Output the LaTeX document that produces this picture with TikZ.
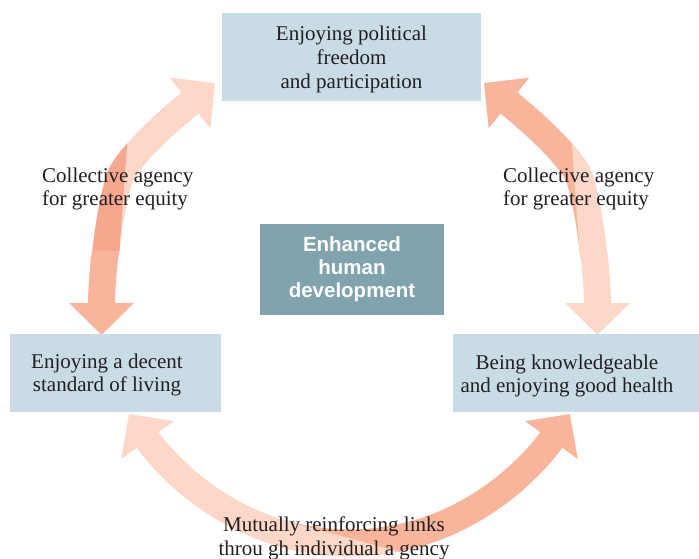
\documentclass[tikz,border=0pt]{standalone}
\usepackage{fontspec}
\setmainfont{Liberation Serif}
\newfontfamily\hubsans{Liberation Sans}
\usetikzlibrary{arrows.meta}
\definecolor{boxblue}{HTML}{C9DCE6}
\definecolor{hubblue}{HTML}{80A3AE}
\definecolor{arrlight}{HTML}{FDD8C9}
\definecolor{arrdark}{HTML}{F9B59C}
\definecolor{arrdeep}{HTML}{F6A88E}
\definecolor{txtcol}{HTML}{231F20}
\begin{document}
\begin{tikzpicture}[x=1pt,y=-1pt,
  band/.style={line width=27pt},
  headend/.style={-{Triangle[width=63pt,length=32pt]}},
  headstart/.style={{Triangle[width=63pt,length=32pt]}-},
  boxstyle/.style={fill=boxblue, draw=none, inner sep=0pt},
  hubstyle/.style={fill=hubblue, draw=none, inner sep=0pt},
  serif/.style={font=\fontsize{21}{23.7}\selectfont, text=txtcol, inner sep=0pt},
  hubtext/.style={font=\hubsans\bfseries\fontsize{20.5}{23.4}\selectfont, text=white, inner sep=0pt, align=center}
]
\useasboundingbox (0,0) rectangle (699,559);
\fill[white] (0,0) rectangle (699,559);

% ---------- named end points ----------
\coordinate (LB) at (101.5,335);
\coordinate (LJ) at (119,180);
\coordinate (LT) at (215,83);
\coordinate (RB) at (597.5,335);
\coordinate (RJ) at (580,180);
\coordinate (RT) at (484,83);
\coordinate (BL) at (129,414);
\coordinate (BM) at (349.5,543);
\coordinate (BR) at (570,414);

% ---------- left arc ----------
\def\leftarc{(LB) .. controls (101.5,275) and (108,218) .. (LJ) .. controls (126,156) and (180,111) .. (LT)}
\begin{scope}
  \clip (0,0) rectangle (300,256);
  \draw[band, arrlight, headend] \leftarc;
\end{scope}
\begin{scope}
  \clip (0,251) rectangle (240,559);
  \draw[band, arrdark, headstart] \leftarc;
\end{scope}
\begin{scope}
  \clip (137.4,0) -- (119.5,251) -- (0,251) -- (0,0) -- cycle;
  \draw[band, arrdeep] \leftarc;
\end{scope}

% ---------- right arc ----------
\def\rightarc{(RB) .. controls (597.5,275) and (591,218) .. (RJ) .. controls (573,156) and (519,111) .. (RT)}
\begin{scope}
  \clip (399,0) rectangle (699,256);
  \draw[band, arrdark, headend] \rightarc;
\end{scope}
\begin{scope}
  \clip (459,251) rectangle (699,559);
  \draw[band, arrlight, headstart] \rightarc;
\end{scope}
\begin{scope}
  \clip (561.6,0) -- (579.5,251) -- (699,251) -- (699,0) -- cycle;
  \draw[band, arrlight] \rightarc;
\end{scope}

% ---------- bottom arc ----------
\def\bottomarc{(BL) .. controls (169.6,470.7) and (239.5,543) .. (BM) .. controls (459.5,543) and (529.4,470.7) .. (BR)}
\begin{scope}
  \clip (0,380) rectangle (412,559);
  \draw[band, arrlight, headstart] \bottomarc;
\end{scope}
\begin{scope}
  \clip (290,380) -- (290,522) -- (410,554.7) -- (410,580) -- (699,580) -- (699,380) -- cycle;
  \draw[band, arrdark, headend] \bottomarc;
\end{scope}

% ---------- boxes ----------
\node[boxstyle, minimum width=259pt, minimum height=88pt] (topbox) at (351.5,57) {};
\node[boxstyle, minimum width=211pt, minimum height=78pt] (leftbox) at (115.5,373) {};
\node[boxstyle, minimum width=246pt, minimum height=78pt] (rightbox) at (576,373) {};
\node[hubstyle, minimum width=184pt, minimum height=91pt] (hubbox) at (352,269.5) {};

% ---------- texts ----------
\node[serif, align=center] (toptxt) at (351.5,59.5) {Enjoying political\\freedom\\and participation};
\node[serif, align=center] (lefttxt) at (107,375) {Enjoying a decent\\standard of living};
\node[serif, align=center] (righttxt) at (567,376) {Being knowledgeable\\and enjoying good health};
\node[hubtext] (hubtxt) at (352,269.2) {Enhanced\\human\\development};
\node[serif, align=left, anchor=west] (leftlab) at (42,189) {Collective agency\\for greater equity};
\node[serif, align=left, anchor=west] (rightlab) at (503,189) {Collective agency\\for greater equity};
\node[serif, align=center] (botlab) at (334,538.6) {Mutually reinforcing links\\throu gh individual a gency};
\end{tikzpicture}
\end{document}
